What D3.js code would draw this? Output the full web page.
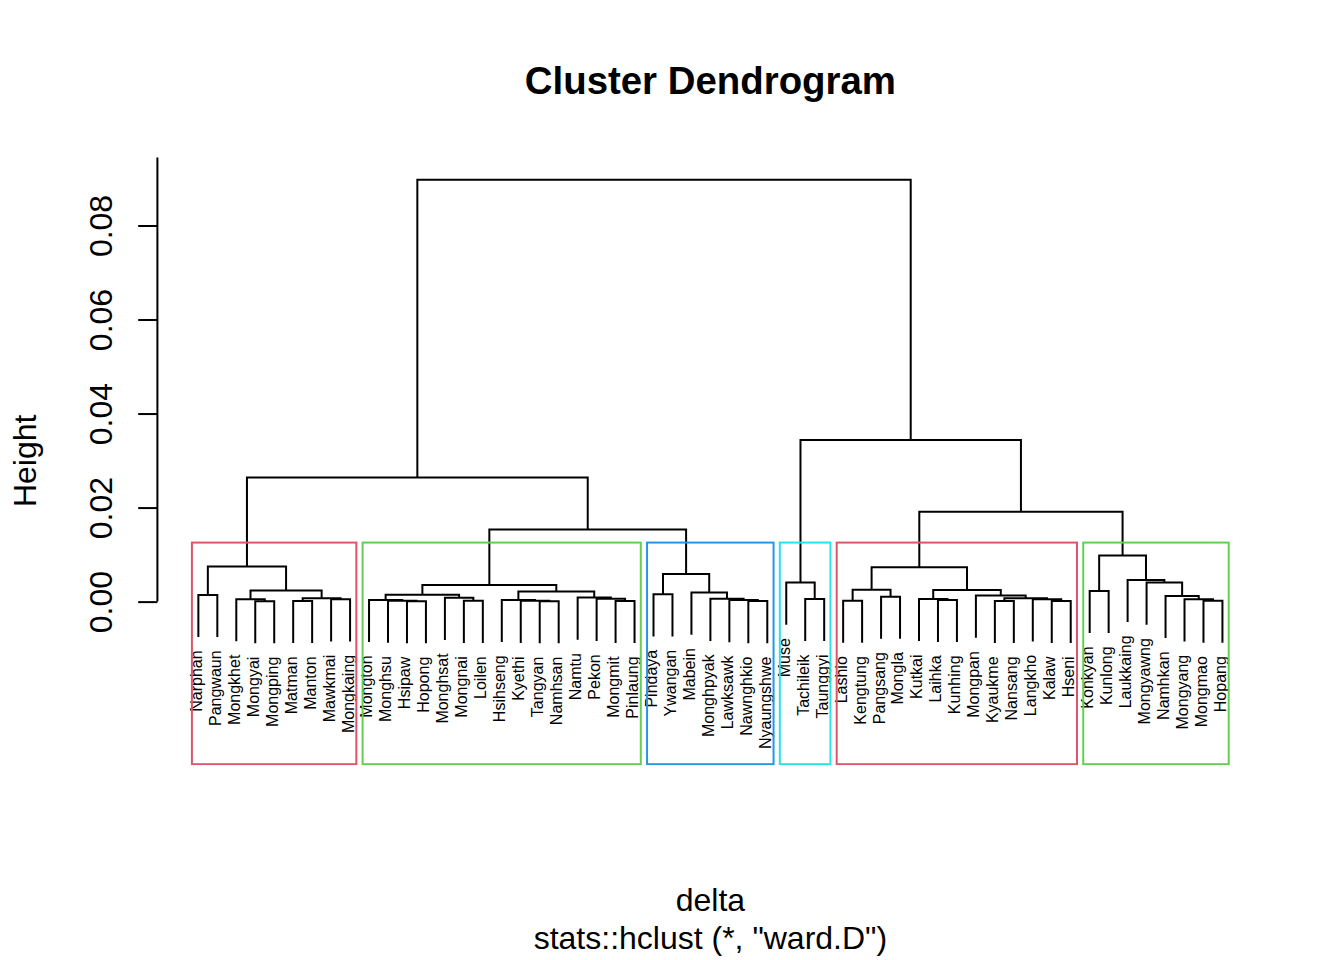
<!DOCTYPE html>
<html><head><meta charset="utf-8">
<script src="https://cdn.jsdelivr.net/npm/d3@7"></script>
<style>body{margin:0;background:#fff} text{font-family:"Liberation Sans",Arial,Helvetica,sans-serif;fill:#000}</style>
</head><body><svg id="c" width="1344" height="960"></svg>
<script>
// ---- data ----
const labels = ["Narphan","Pangwaun","Mongkhet","Mongyai","Mongping","Matman","Manton","Mawkmai","Mongkaing",
"Mongton","Monghsu","Hsipaw","Hopong","Monghsat","Mongnai","Loilen","Hsihseng","Kyethi","Tangyan","Namhsan","Namtu","Pekon","Mongmit","Pinlaung",
"Pindaya","Ywangan","Mabein","Monghpyak","Lawksawk","Nawnghkio","Nyaungshwe",
"Muse","Tachileik","Taunggyi",
"Lashio","Kengtung","Pangsang","Mongla","Kutkai","Laihka","Kunhing","Mongpan","Kyaukme","Nansang","Langkho","Kalaw","Hseni",
"Konkyan","Kunlong","Laukkaing","Mongyawng","Namhkan","Mongyang","Mongmao","Hopang"];
// R-style merge matrix: negative = leaf (1-based position in labels), positive = earlier merge step
const merges = [
 [-4,-5],[-6,-7],[-8,-9],[-3,1],[2,3],[4,5],[-1,-2],[7,6],
 [-12,-13],[-11,9],[-10,10],[-15,-16],[-14,12],[11,13],[-19,-20],[-18,15],[-17,16],[-23,-24],[-22,18],[-21,19],[17,20],[14,21],
 [-30,-31],[-29,23],[-28,24],[-27,25],[-25,-26],[27,26],[22,28],[8,29],
 [-33,-34],[-32,31],
 [-35,-36],[-37,-38],[33,34],[-40,-41],[-39,36],[-43,-44],[-46,-47],[-45,39],[38,40],[-42,41],[37,42],[35,43],
 [-48,-49],[-54,-55],[-53,46],[-52,47],[-51,48],[-50,49],[45,50],[44,51],[32,52],[30,53]
];
const heights = [
 0.0001,0.00015,0.0005,0.00052,0.0007,0.00234,0.00143,0.00745,
 0.00009,0.00021,0.00036,0.00018,0.0008,0.00147,0.0001,0.00016,0.00036,0.00015,0.0006,0.00085,0.00213,0.00355,
 0.00012,0.00035,0.0006,0.00192,0.00157,0.0059,0.01532,0.02638,
 0.00057,0.00404,
 0.0002,0.00106,0.00252,0.00036,0.00057,0.00015,0.00015,0.0005,0.00072,0.00128,0.00245,0.00732,
 0.00228,0.0002,0.0005,0.00121,0.00404,0.00462,0.00979,0.01909,0.0344,0.0897
];
const clusterColors = ["#DF536B","#61D04F","#2297E6","#28E2E5","#DF536B","#61D04F"];
const yTicks = [0, 0.02, 0.04, 0.06, 0.08, 0.10];
const titleText = "Cluster Dendrogram";
const xLabel = "delta";
const subLabel = 'stats::hclust (*, "ward.D")';
const yLabel = "Height";
const k = 6;

// ---- layout ----
const svg = d3.select("#c");
const plot = {left:157.4, right:1263.4, top:157.4, bottom:764.2};
const n = labels.length;
const x = d3.scaleLinear().domain([1-0.04*(n-1), n+0.04*(n-1)]).range([plot.left, plot.right]);
const maxH = d3.max(heights);
const yMin = -0.0298;
const ext = 0.04*(maxH - yMin);
const y = d3.scaleLinear().domain([yMin-ext, maxH+ext]).range([plot.bottom, plot.top]);
const hang = 0.1*maxH;
const labelSize = 16;
const lw = 2;

// node centers
const center = new Array(merges.length);
function cx(c){ return c < 0 ? (-c) : center[c-1]; }
merges.forEach((m,i)=>{ center[i] = (cx(m[0]) + cx(m[1]))/2; });

const g = svg.append("g");
merges.forEach((m,i)=>{
  const h = heights[i];
  const hA = m[0] < 0 ? h - hang : heights[m[0]-1];
  const hB = m[1] < 0 ? h - hang : heights[m[1]-1];
  const xa = x(cx(m[0])), xb = x(cx(m[1]));
  g.append("path")
   .attr("d", `M${xa},${y(hA)}V${y(h)}H${xb}V${y(hB)}`)
   .attr("fill","none").attr("stroke","#000").attr("stroke-width",lw);
  m.forEach(c=>{
    if (c < 0) {
      const lx = x(-c), ly = y(h - hang) + 0.833*labelSize;
      g.append("text")
       .attr("transform", `translate(${lx},${ly}) rotate(-90)`)
       .attr("text-anchor","end").attr("dy","0.215em")
       .attr("font-size", labelSize)
       .text(labels[-c-1]);
    }
  });
});

// clusters (rect.hclust)
const sortedH = heights.slice().sort((a,b)=>b-a);
const cut = (sortedH[k-2] + sortedH[k-1]) / 2;
const clusters = [];
function leaves(c){ return c < 0 ? [-c] : leaves(merges[c-1][0]).concat(leaves(merges[c-1][1])); }
function collect(c){
  if (c > 0 && heights[c-1] > cut) { collect(merges[c-1][0]); collect(merges[c-1][1]); }
  else clusters.push(leaves(c));
}
collect(merges.length);
svg.append("clipPath").attr("id","pr").append("rect")
  .attr("x",plot.left).attr("y",plot.top).attr("width",plot.right-plot.left).attr("height",plot.bottom-plot.top+1);
const rg = svg.append("g").attr("clip-path","url(#pr)");
clusters.forEach((cl,i)=>{
  const lo = d3.min(cl), hi = d3.max(cl);
  const x0 = x(lo - 0.34), x1 = x(hi + 0.33);
  rg.append("rect").attr("x",x0).attr("y",y(cut))
    .attr("width",x1-x0).attr("height",plot.bottom - y(cut))
    .attr("fill","none").attr("stroke",clusterColors[i % clusterColors.length]).attr("stroke-width",lw);
});

// y axis
const visTicks = yTicks.filter(t => t >= y.domain()[0] && t <= y.domain()[1]);
const axis = d3.axisLeft(y).tickValues(visTicks).tickSize(19.2).tickFormat(d3.format(".2f"));
const ag = svg.append("g").attr("transform",`translate(${plot.left},0)`).call(axis);
ag.select(".domain").remove();
ag.selectAll(".tick line").attr("stroke","#000").attr("stroke-width",lw);
ag.selectAll(".tick text")
  .attr("x",0).attr("y",0).attr("dy",0)
  .attr("transform",`translate(${112-plot.left},0) rotate(-90)`)
  .attr("text-anchor","middle").attr("font-size",32).attr("fill","#000")
  .style("font-family",'"Liberation Sans",Arial,sans-serif');
ag.append("line")
  .attr("x1",0).attr("x2",0)
  .attr("y1", y(yTicks[0]))
  .attr("y2", y(Math.min(yTicks[yTicks.length-1], y.domain()[1])))
  .attr("stroke","#000").attr("stroke-width",lw);

// titles
const midX = (plot.left + plot.right)/2;
svg.append("text").attr("x",midX).attr("y",93.5).attr("text-anchor","middle")
  .attr("font-size",38.4).attr("font-weight","bold").text(titleText);
svg.append("text").attr("x",midX).attr("y",911).attr("text-anchor","middle")
  .attr("font-size",32).text(xLabel);
svg.append("text").attr("x",midX).attr("y",949).attr("text-anchor","middle")
  .attr("font-size",32).text(subLabel);
svg.append("text").attr("transform",`translate(35.5,${(plot.top+plot.bottom)/2}) rotate(-90)`)
  .attr("text-anchor","middle").attr("font-size",32).text(yLabel);
</script></body></html>
